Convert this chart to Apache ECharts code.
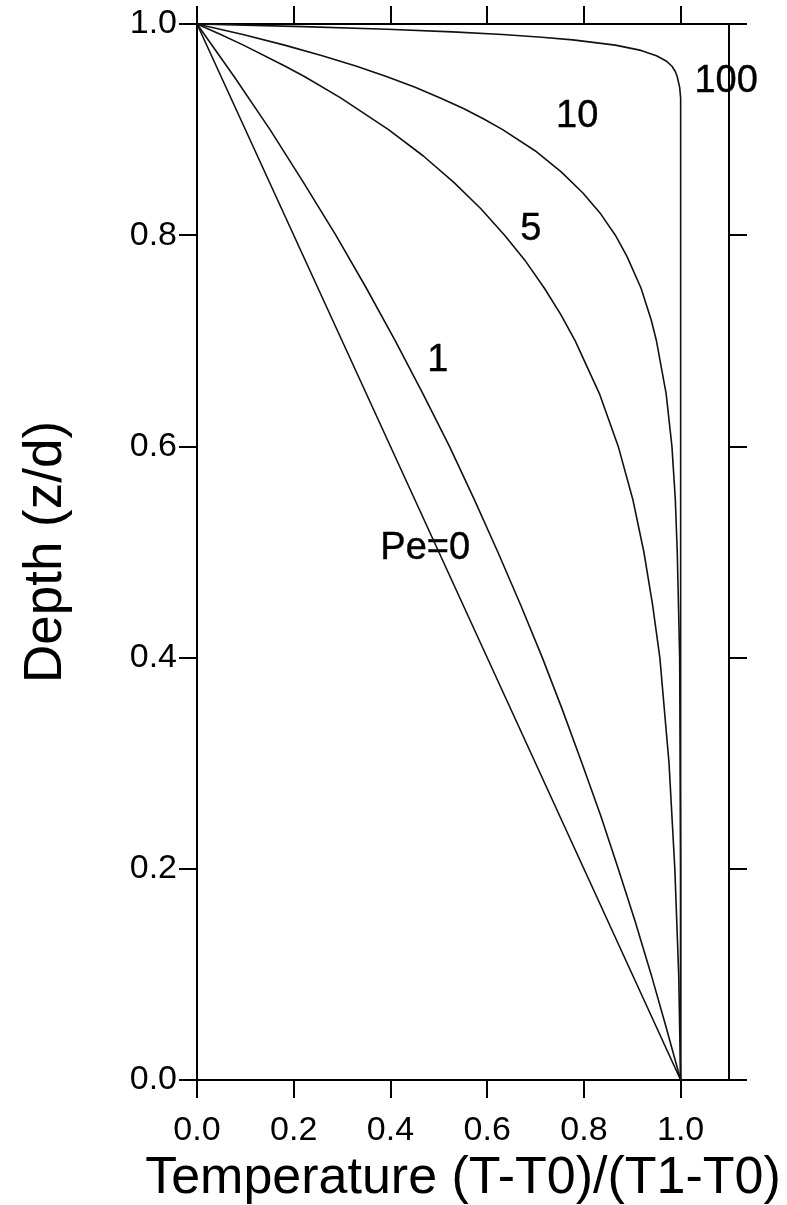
<!DOCTYPE html>
<html><head><meta charset="utf-8">
<script src="https://cdn.jsdelivr.net/npm/echarts@6/dist/echarts.min.js"></script>
<style>html,body{margin:0;padding:0;background:#fff}#c{width:787px;height:1205px}</style>
</head><body><div id="c"></div>
<script>
// Tick values
const xTicks = [0, 0.2, 0.4, 0.6, 0.8, 1.0];
const yTicks = [0, 0.2, 0.4, 0.6, 0.8, 1.0];

// Curves: [temperature, depth]
const pe0 = [[0,1],[0.25,0.75],[0.5,0.5],[0.75,0.25],[1,0]];
const pe1 = [[0,1],[0.077,0.95],[0.151,0.9],[0.220,0.85],[0.287,0.8],[0.350,0.75],[0.410,0.7],[0.467,0.65],[0.522,0.6],[0.573,0.55],[0.622,0.5],[0.669,0.45],[0.714,0.4],[0.756,0.35],[0.796,0.3],[0.835,0.25],[0.871,0.2],[0.906,0.15],[0.939,0.1],[0.970,0.05],[1,0]];
const pe5 = [[0,1],[0.049,0.99],[0.096,0.98],[0.1825,0.96],[0.223,0.95],[0.297,0.93],[0.396,0.9],[0.468,0.875],[0.531,0.85],[0.587,0.825],[0.636,0.8],[0.680,0.775],[0.718,0.75],[0.752,0.725],[0.782,0.7],[0.832,0.65],[0.871,0.6],[0.901,0.55],[0.924,0.5],[0.942,0.45],[0.957,0.4],[0.976,0.3],[0.988,0.2],[0.996,0.1],[1,0]];
const pe10 = [[0,1],[0.095,0.99],[0.181,0.98],[0.259,0.97],[0.33,0.96],[0.393,0.95],[0.451,0.94],[0.503,0.93],[0.551,0.92],[0.593,0.91],[0.632,0.9],[0.699,0.88],[0.753,0.86],[0.798,0.84],[0.835,0.82],[0.865,0.8],[0.889,0.78],[0.918,0.75],[0.939,0.72],[0.95,0.7],[0.97,0.65],[0.982,0.6],[0.989,0.55],[0.993,0.5],[0.998,0.4],[0.999,0.3],[1,0.2],[1,0]];
const pe100 = [[0,1],[0.22,0.9975],[0.393,0.995],[0.528,0.9925],[0.632,0.99],[0.713,0.9875],[0.777,0.985],[0.865,0.98],[0.918,0.975],[0.95,0.97],[0.97,0.965],[0.982,0.96],[0.989,0.955],[0.993,0.95],[0.998,0.94],[1,0.93],[1,0]];

// Curve labels: [name, temperature, depth]
const labelNames = ['100', '10', '5', '1', 'Pe=0'];
const labelX = [1.094, 0.786, 0.690, 0.498, 0.472];
const labelY = [0.946, 0.912, 0.805, 0.681, 0.503];

const FONT = '"Liberation Sans", Arial, Helvetica, sans-serif';
const lineStyle = {color: '#111', width: 1.6};

const chart = echarts.init(document.getElementById('c'), null, {renderer: 'canvas'});
const tickStyle = {show: true, inside: false, length: 18, lineStyle: {color: '#000', width: 2}};
const axisLine = {show: true, onZero: false, lineStyle: {color: '#000', width: 2}};

chart.setOption({
  animation: false,
  backgroundColor: '#fff',
  grid: {left: 197, top: 24, right: 58, bottom: 125, containLabel: false, outerBoundsMode: 'none'},
  xAxis: [
    {type: 'value', position: 'bottom', min: 0, max: 1.1,
     axisLine: axisLine,
     axisTick: Object.assign({customValues: xTicks}, tickStyle),
     axisLabel: {customValues: xTicks, formatter: v => v.toFixed(1), margin: 34,
                 fontFamily: FONT, fontSize: 34, color: '#000'},
     splitLine: {show: false},
     name: 'Temperature (T-T0)/(T1-T0)', nameLocation: 'middle', nameGap: 55,
     nameTextStyle: {fontFamily: FONT, fontSize: 52, color: '#000'}},
    {type: 'value', position: 'top', min: 0, max: 1.1,
     axisLine: axisLine,
     axisTick: Object.assign({customValues: xTicks}, tickStyle),
     axisLabel: {show: false}, splitLine: {show: false}}
  ],
  yAxis: [
    {type: 'value', position: 'left', min: 0, max: 1, interval: 0.2,
     axisLine: axisLine, axisTick: tickStyle,
     axisLabel: {formatter: v => v.toFixed(1), margin: 20,
                 fontFamily: FONT, fontSize: 34, color: '#000'},
     splitLine: {show: false},
     name: 'Depth (z/d)', nameLocation: 'middle', nameGap: 124,
     nameTextStyle: {fontFamily: FONT, fontSize: 53, color: '#000'}},
    {type: 'value', position: 'right', min: 0, max: 1, interval: 0.2,
     axisLine: axisLine, axisTick: tickStyle,
     axisLabel: {show: false}, splitLine: {show: false}}
  ],
  series: [
    {type: 'line', data: pe0, showSymbol: false, lineStyle: lineStyle},
    {type: 'line', data: pe1, showSymbol: false, lineStyle: lineStyle},
    {type: 'line', data: pe5, showSymbol: false, lineStyle: lineStyle},
    {type: 'line', data: pe10, showSymbol: false, lineStyle: lineStyle},
    {type: 'line', data: pe100, showSymbol: false, lineStyle: lineStyle},
    {type: 'scatter', symbolSize: 1, itemStyle: {color: 'rgba(0,0,0,0)'}, silent: true,
     data: labelNames.map((n, i) => ({name: n, value: [labelX[i], labelY[i]]})),
     label: {show: true, position: 'inside', formatter: '{b}', fontFamily: FONT,
             fontSize: 38, color: '#000', opacity: 1,
             textBorderColor: '#000', textBorderWidth: 0.4}}
  ]
});
</script></body></html>
